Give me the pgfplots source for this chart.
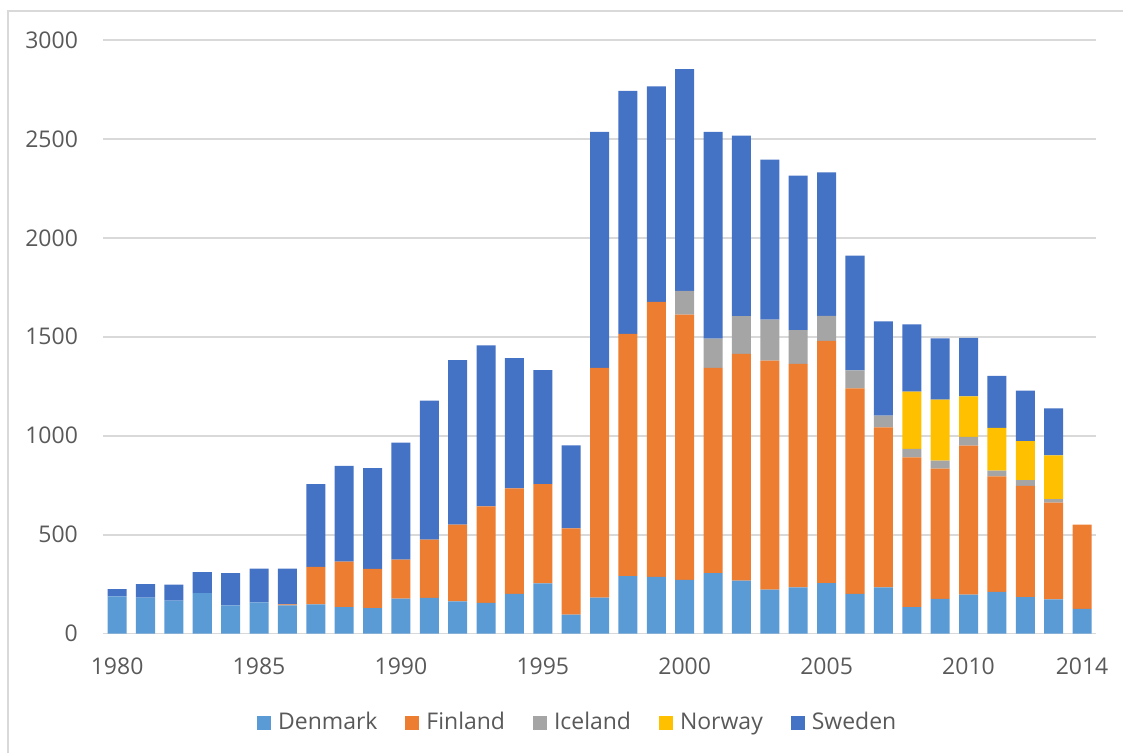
\documentclass[border=0pt]{standalone}
\usepackage{pgfplots}
\pgfplotsset{compat=1.18}
\usepackage{pgfplotstable}
\usepackage{fontspec}
\setmainfont{Open Sans}
\definecolor{cDen}{HTML}{5B9BD5}
\definecolor{cFin}{HTML}{ED7D31}
\definecolor{cIce}{HTML}{A5A5A5}
\definecolor{cNor}{HTML}{FFC000}
\definecolor{cSwe}{HTML}{4472C4}
\definecolor{gridc}{HTML}{D9D9D9}
\definecolor{textc}{HTML}{595959}

\pgfplotstableread{
year den fin ice nor swe
1980 188 0 0 0 37
1981 182 0 0 0 68
1982 167 0 0 0 80
1983 204 0 0 0 106
1984 143 0 0 0 162
1985 158 0 0 0 170
1986 143 5 0 0 180
1987 148 189 0 0 418
1988 133 231 0 0 484
1989 129 198 0 0 509
1990 177 197 0 0 591
1991 180 295 0 0 702
1992 163 388 0 0 831
1993 155 488 0 0 814
1994 200 534 0 0 658
1995 254 501 0 0 576
1996 96 436 0 0 419
1997 182 1161 0 0 1193
1998 290 1225 0 0 1228
1999 286 1390 0 0 1090
2000 271 1341 120 0 1121
2001 305 1038 147 0 1046
2002 267 1146 191 0 913
2003 222 1158 207 0 808
2004 234 1129 170 0 781
2005 255 1224 127 0 725
2006 201 1038 91 0 580
2007 234 808 59 0 477
2008 133 758 42 290 340
2009 175 659 40 308 310
2010 197 753 44 205 296
2011 210 585 28 216 263
2012 184 562 30 196 256
2013 173 489 18 221 237
2014 125 426 0 0 0
}\data

\begin{document}
\begin{tikzpicture}
\begin{axis}[
  at={(0,0)}, anchor=south west,
  scale only axis, width=497pt, height=297pt,
  ybar stacked, bar width=0.67,
  xmin=1979.5, xmax=2014.5, ymin=0, ymax=3000,
  ytick={0,500,...,3000},
  xtick={1980,1985,1990,1995,2000,2005,2010,2014},
  ymajorgrids, grid style={draw=gridc, line width=0.9pt},
  axis lines*=left,
  x axis line style={draw=gridc, line width=0.9pt},
  y axis line style={draw=none},
  major tick length=0pt, tick style={draw=none},
  /pgf/number format/1000 sep={},
  /pgf/number format/assume math mode=true,
  ticklabel style={font=\fontsize{11.5}{14}\selectfont, text=textc},
  yticklabel style={xshift=-9pt},
  xticklabel style={yshift=-8.5pt},
  legend style={at={(0.479,-0.15)}, anchor=center, legend columns=-1, draw=none,
    font=\fontsize{11.5}{14}\selectfont, text=textc,
    /tikz/every odd column/.append style={column sep=1.5pt},
    /tikz/every even column/.append style={column sep=12pt}},
  legend image code/.code={\fill[#1] (0pt,-3.5pt) rectangle (7pt,3.5pt);},
  every axis plot/.append style={draw=none},
]
\addplot[fill=cDen] table[x=year,y=den]{\data};
\addplot[fill=cFin] table[x=year,y=fin]{\data};
\addplot[fill=cIce] table[x=year,y=ice]{\data};
\addplot[fill=cNor] table[x=year,y=nor]{\data};
\addplot[fill=cSwe] table[x=year,y=swe]{\data};
\legend{Denmark,Finland,Iceland,Norway,Sweden}
\end{axis}
\draw[gridc, line width=0.8pt] (-47.5pt,-60pt) -- (-47.5pt,311.5pt) -- (510.5pt,311.5pt);
\path (-51.5pt,-60pt) rectangle (510.5pt,317pt);
\end{tikzpicture}
\end{document}
